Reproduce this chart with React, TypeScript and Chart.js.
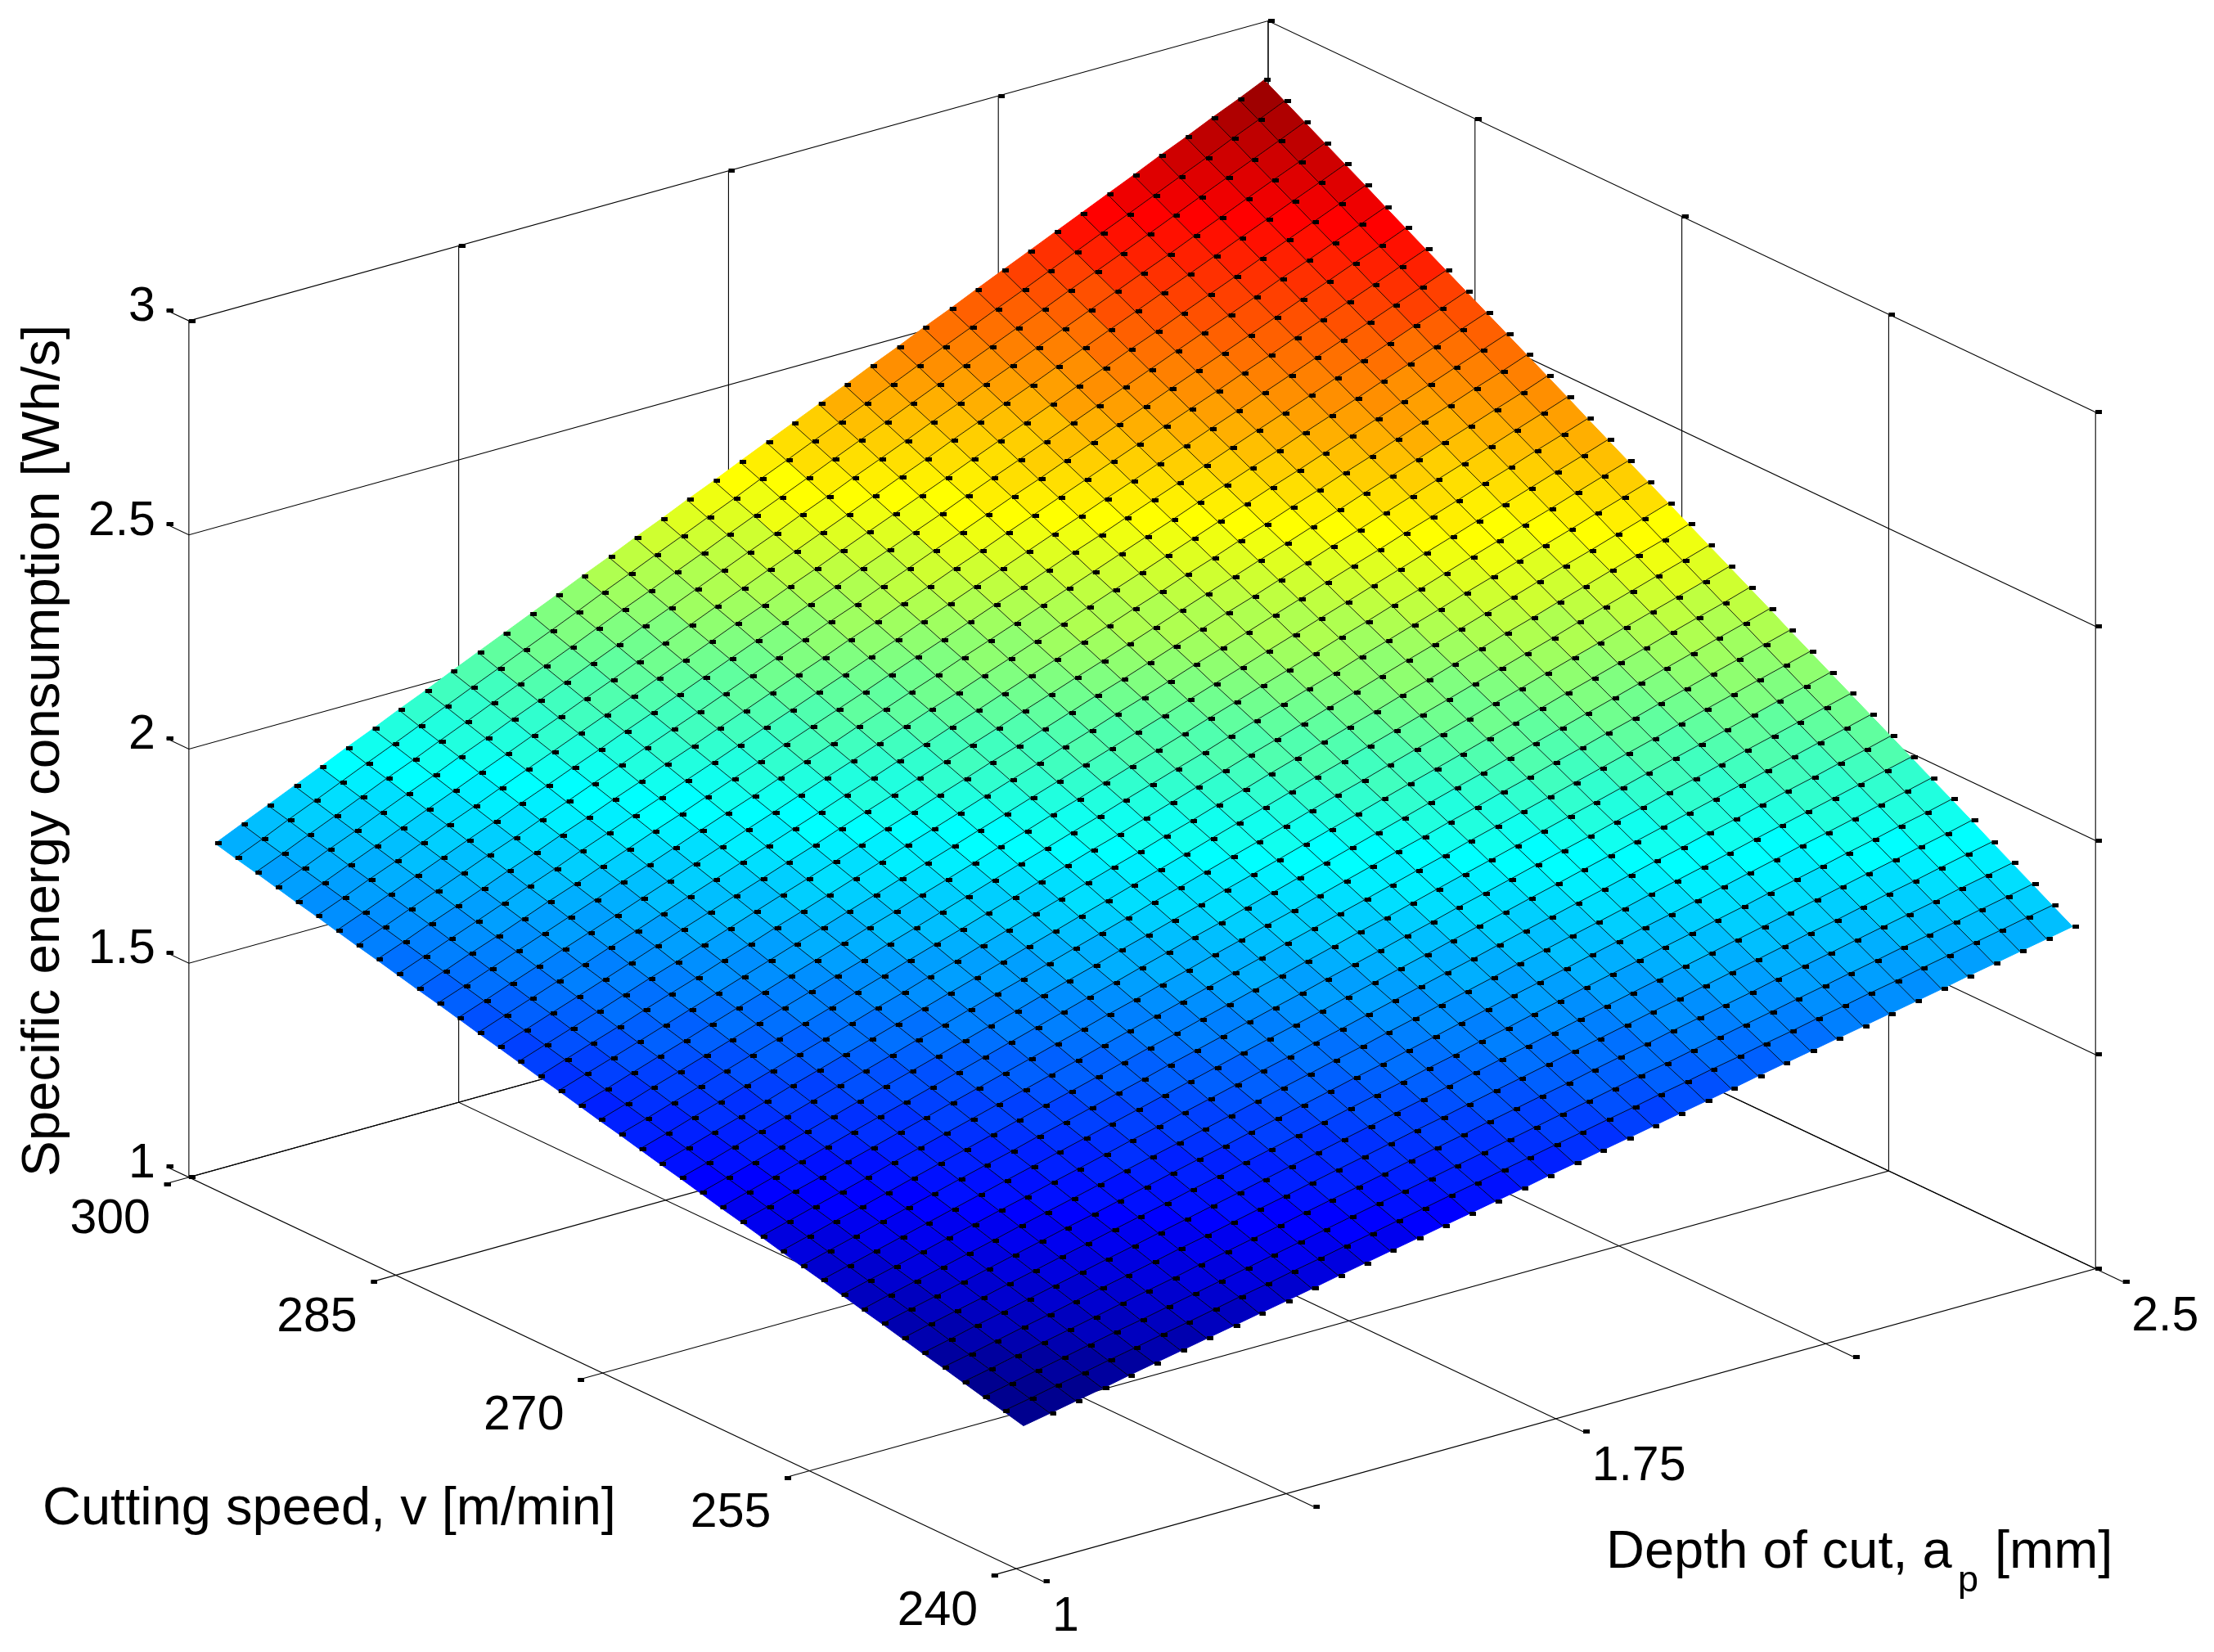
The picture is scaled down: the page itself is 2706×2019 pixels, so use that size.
import React, { useEffect, useRef } from "react";
import { Chart, registerables } from "chart.js";

Chart.register(...registerables);

// Grid of the surface
const depths = [1.010,1.047,1.083,1.120,1.156,1.192,1.229,1.265,1.302,1.338,1.375,1.411,1.448,1.484,1.520,1.557,1.593,1.630,1.666,1.703,1.739,1.776,1.812,1.849,1.885,1.921,1.958,1.994,2.031,2.067,2.104,2.140,2.177,2.213,2.250,2.286,2.322,2.359,2.395,2.432,2.468];
const speeds = [240,241.47,242.93,244.40,245.86,247.33,248.79,250.26,251.72,253.19,254.66,256.12,257.59,259.05,260.52,261.98,263.45,264.91,266.38,267.84,269.31,270.78,272.24,273.71,275.17,276.64,278.10,279.57,281.03,282.50,283.97,285.43,286.90,288.36,289.83,291.29,292.76,294.22,295.69,297.15,298.62];

// energy[speed index][depth index], Wh/s
const energy = [
[1.329,1.341,1.353,1.365,1.378,1.390,1.402,1.414,1.426,1.438,1.450,1.462,1.475,1.487,1.499,1.511,1.523,1.535,1.547,1.559,1.572,1.584,1.596,1.608,1.620,1.632,1.644,1.656,1.669,1.681,1.693,1.705,1.717,1.729,1.741,1.753,1.766,1.778,1.790,1.802,1.814],
[1.341,1.353,1.366,1.378,1.391,1.403,1.416,1.428,1.441,1.454,1.466,1.479,1.491,1.504,1.516,1.529,1.541,1.554,1.566,1.579,1.591,1.604,1.616,1.629,1.641,1.654,1.666,1.679,1.691,1.704,1.716,1.729,1.741,1.754,1.766,1.779,1.791,1.804,1.816,1.829,1.841],
[1.352,1.365,1.378,1.391,1.404,1.417,1.429,1.442,1.455,1.468,1.481,1.494,1.507,1.520,1.533,1.546,1.558,1.571,1.584,1.597,1.610,1.623,1.636,1.649,1.662,1.675,1.687,1.700,1.713,1.726,1.739,1.752,1.765,1.778,1.791,1.804,1.816,1.829,1.842,1.855,1.868],
[1.364,1.377,1.391,1.404,1.417,1.430,1.444,1.457,1.470,1.484,1.497,1.510,1.523,1.537,1.550,1.563,1.576,1.590,1.603,1.616,1.630,1.643,1.656,1.669,1.683,1.696,1.709,1.723,1.736,1.749,1.762,1.776,1.789,1.802,1.816,1.829,1.842,1.855,1.869,1.882,1.895],
[1.376,1.389,1.403,1.417,1.430,1.444,1.458,1.471,1.485,1.499,1.512,1.526,1.540,1.553,1.567,1.581,1.594,1.608,1.622,1.635,1.649,1.663,1.676,1.690,1.704,1.717,1.731,1.745,1.758,1.772,1.786,1.799,1.813,1.827,1.840,1.854,1.868,1.881,1.895,1.909,1.922],
[1.387,1.401,1.416,1.430,1.444,1.458,1.472,1.486,1.500,1.514,1.528,1.542,1.556,1.570,1.584,1.598,1.612,1.626,1.640,1.654,1.668,1.683,1.697,1.711,1.725,1.739,1.753,1.767,1.781,1.795,1.809,1.823,1.837,1.851,1.865,1.879,1.893,1.907,1.921,1.935,1.950],
[1.399,1.414,1.428,1.442,1.457,1.471,1.486,1.500,1.515,1.529,1.543,1.558,1.572,1.587,1.601,1.616,1.630,1.645,1.659,1.673,1.688,1.702,1.717,1.731,1.746,1.760,1.775,1.789,1.803,1.818,1.832,1.847,1.861,1.876,1.890,1.904,1.919,1.933,1.948,1.962,1.977],
[1.411,1.426,1.440,1.455,1.470,1.485,1.500,1.515,1.529,1.544,1.559,1.574,1.589,1.603,1.618,1.633,1.648,1.663,1.678,1.692,1.707,1.722,1.737,1.752,1.767,1.781,1.796,1.811,1.826,1.841,1.855,1.870,1.885,1.900,1.915,1.930,1.944,1.959,1.974,1.989,2.004],
[1.422,1.438,1.453,1.468,1.483,1.498,1.514,1.529,1.544,1.559,1.575,1.590,1.605,1.620,1.635,1.651,1.666,1.681,1.696,1.711,1.727,1.742,1.757,1.772,1.787,1.803,1.818,1.833,1.848,1.863,1.879,1.894,1.909,1.924,1.940,1.955,1.970,1.985,2.000,2.016,2.031],
[1.434,1.450,1.465,1.481,1.497,1.512,1.528,1.543,1.559,1.574,1.590,1.606,1.621,1.637,1.652,1.668,1.684,1.699,1.715,1.730,1.746,1.762,1.777,1.793,1.808,1.824,1.840,1.855,1.871,1.886,1.902,1.918,1.933,1.949,1.964,1.980,1.996,2.011,2.027,2.042,2.058],
[1.446,1.462,1.478,1.494,1.510,1.526,1.542,1.558,1.574,1.590,1.606,1.622,1.638,1.654,1.670,1.686,1.702,1.718,1.733,1.749,1.765,1.781,1.797,1.813,1.829,1.845,1.861,1.877,1.893,1.909,1.925,1.941,1.957,1.973,1.989,2.005,2.021,2.037,2.053,2.069,2.085],
[1.457,1.474,1.490,1.507,1.523,1.539,1.556,1.572,1.588,1.605,1.621,1.637,1.654,1.670,1.687,1.703,1.719,1.736,1.752,1.768,1.785,1.801,1.817,1.834,1.850,1.867,1.883,1.899,1.916,1.932,1.948,1.965,1.981,1.998,2.014,2.030,2.047,2.063,2.079,2.096,2.112],
[1.469,1.486,1.503,1.519,1.536,1.553,1.570,1.586,1.603,1.620,1.637,1.653,1.670,1.687,1.704,1.720,1.737,1.754,1.771,1.787,1.804,1.821,1.838,1.854,1.871,1.888,1.905,1.921,1.938,1.955,1.972,1.988,2.005,2.022,2.039,2.055,2.072,2.089,2.106,2.122,2.139],
[1.481,1.498,1.515,1.532,1.549,1.567,1.584,1.601,1.618,1.635,1.652,1.669,1.686,1.704,1.721,1.738,1.755,1.772,1.789,1.806,1.824,1.841,1.858,1.875,1.892,1.909,1.926,1.944,1.961,1.978,1.995,2.012,2.029,2.046,2.063,2.081,2.098,2.115,2.132,2.149,2.166],
[1.493,1.510,1.528,1.545,1.563,1.580,1.598,1.615,1.633,1.650,1.668,1.685,1.703,1.720,1.738,1.755,1.773,1.790,1.808,1.825,1.843,1.860,1.878,1.896,1.913,1.931,1.948,1.966,1.983,2.001,2.018,2.036,2.053,2.071,2.088,2.106,2.123,2.141,2.158,2.176,2.193],
[1.504,1.522,1.540,1.558,1.576,1.594,1.612,1.629,1.647,1.665,1.683,1.701,1.719,1.737,1.755,1.773,1.791,1.809,1.827,1.844,1.862,1.880,1.898,1.916,1.934,1.952,1.970,1.988,2.006,2.023,2.041,2.059,2.077,2.095,2.113,2.131,2.149,2.167,2.185,2.203,2.221],
[1.516,1.534,1.552,1.571,1.589,1.607,1.626,1.644,1.662,1.680,1.699,1.717,1.735,1.754,1.772,1.790,1.809,1.827,1.845,1.863,1.882,1.900,1.918,1.937,1.955,1.973,1.992,2.010,2.028,2.046,2.065,2.083,2.101,2.120,2.138,2.156,2.174,2.193,2.211,2.229,2.248],
[1.528,1.546,1.565,1.584,1.602,1.621,1.640,1.658,1.677,1.696,1.714,1.733,1.752,1.770,1.789,1.808,1.826,1.845,1.864,1.882,1.901,1.920,1.938,1.957,1.976,1.995,2.013,2.032,2.051,2.069,2.088,2.107,2.125,2.144,2.163,2.181,2.200,2.219,2.237,2.256,2.275],
[1.539,1.558,1.577,1.596,1.615,1.635,1.654,1.673,1.692,1.711,1.730,1.749,1.768,1.787,1.806,1.825,1.844,1.863,1.882,1.901,1.920,1.940,1.959,1.978,1.997,2.016,2.035,2.054,2.073,2.092,2.111,2.130,2.149,2.168,2.187,2.207,2.226,2.245,2.264,2.283,2.302],
[1.551,1.570,1.590,1.609,1.629,1.648,1.668,1.687,1.706,1.726,1.745,1.765,1.784,1.804,1.823,1.843,1.862,1.882,1.901,1.920,1.940,1.959,1.979,1.998,2.018,2.037,2.057,2.076,2.095,2.115,2.134,2.154,2.173,2.193,2.212,2.232,2.251,2.271,2.290,2.309,2.329],
[1.563,1.582,1.602,1.622,1.642,1.662,1.682,1.701,1.721,1.741,1.761,1.781,1.801,1.820,1.840,1.860,1.880,1.900,1.920,1.939,1.959,1.979,1.999,2.019,2.039,2.058,2.078,2.098,2.118,2.138,2.158,2.177,2.197,2.217,2.237,2.257,2.277,2.296,2.316,2.336,2.356],
[1.574,1.594,1.615,1.635,1.655,1.675,1.696,1.716,1.736,1.756,1.776,1.797,1.817,1.837,1.857,1.878,1.898,1.918,1.938,1.958,1.979,1.999,2.019,2.039,2.060,2.080,2.100,2.120,2.140,2.161,2.181,2.201,2.221,2.242,2.262,2.282,2.302,2.322,2.343,2.363,2.383],
[1.586,1.606,1.627,1.648,1.668,1.689,1.710,1.730,1.751,1.771,1.792,1.813,1.833,1.854,1.874,1.895,1.916,1.936,1.957,1.977,1.998,2.019,2.039,2.060,2.081,2.101,2.122,2.142,2.163,2.184,2.204,2.225,2.245,2.266,2.287,2.307,2.328,2.348,2.369,2.390,2.410],
[1.598,1.619,1.639,1.660,1.681,1.702,1.723,1.744,1.765,1.786,1.807,1.828,1.849,1.870,1.891,1.912,1.933,1.954,1.975,1.996,2.017,2.038,2.059,2.080,2.101,2.122,2.143,2.164,2.185,2.206,2.227,2.248,2.269,2.290,2.311,2.332,2.353,2.374,2.395,2.416,2.437],
[1.609,1.631,1.652,1.673,1.695,1.716,1.737,1.759,1.780,1.802,1.823,1.844,1.866,1.887,1.909,1.930,1.951,1.973,1.994,2.015,2.037,2.058,2.080,2.101,2.122,2.144,2.165,2.186,2.208,2.229,2.251,2.272,2.293,2.315,2.336,2.357,2.379,2.400,2.422,2.443,2.464],
[1.621,1.643,1.664,1.686,1.708,1.730,1.751,1.773,1.795,1.817,1.839,1.860,1.882,1.904,1.926,1.947,1.969,1.991,2.013,2.034,2.056,2.078,2.100,2.121,2.143,2.165,2.187,2.209,2.230,2.252,2.274,2.296,2.317,2.339,2.361,2.383,2.404,2.426,2.448,2.470,2.492],
[1.633,1.655,1.677,1.699,1.721,1.743,1.766,1.788,1.810,1.832,1.854,1.876,1.898,1.921,1.943,1.965,1.987,2.009,2.031,2.053,2.076,2.098,2.120,2.142,2.164,2.186,2.209,2.231,2.253,2.275,2.297,2.319,2.341,2.364,2.386,2.408,2.430,2.452,2.474,2.496,2.519],
[1.644,1.667,1.689,1.712,1.734,1.757,1.779,1.802,1.825,1.847,1.870,1.892,1.915,1.937,1.960,1.982,2.005,2.027,2.050,2.072,2.095,2.118,2.140,2.163,2.185,2.208,2.230,2.253,2.275,2.298,2.320,2.343,2.365,2.388,2.410,2.433,2.456,2.478,2.501,2.523,2.546],
[1.656,1.679,1.702,1.725,1.748,1.770,1.793,1.816,1.839,1.862,1.885,1.908,1.931,1.954,1.977,2.000,2.023,2.046,2.069,2.091,2.114,2.137,2.160,2.183,2.206,2.229,2.252,2.275,2.298,2.321,2.344,2.367,2.389,2.412,2.435,2.458,2.481,2.504,2.527,2.550,2.573],
[1.668,1.691,1.714,1.738,1.761,1.784,1.807,1.831,1.854,1.877,1.901,1.924,1.947,1.971,1.994,2.017,2.041,2.064,2.087,2.110,2.134,2.157,2.180,2.204,2.227,2.250,2.274,2.297,2.320,2.344,2.367,2.390,2.413,2.437,2.460,2.483,2.507,2.530,2.553,2.577,2.600],
[1.679,1.703,1.727,1.750,1.774,1.798,1.821,1.845,1.869,1.893,1.916,1.940,1.964,1.987,2.011,2.035,2.058,2.082,2.106,2.130,2.153,2.177,2.201,2.224,2.248,2.272,2.295,2.319,2.343,2.366,2.390,2.414,2.438,2.461,2.485,2.509,2.532,2.556,2.580,2.603,2.627],
[1.691,1.715,1.739,1.763,1.787,1.811,1.835,1.860,1.884,1.908,1.932,1.956,1.980,2.004,2.028,2.052,2.076,2.100,2.124,2.148,2.173,2.197,2.221,2.245,2.269,2.293,2.317,2.341,2.365,2.389,2.413,2.437,2.461,2.486,2.510,2.534,2.558,2.582,2.606,2.630,2.654],
[1.703,1.727,1.752,1.776,1.800,1.825,1.849,1.874,1.898,1.923,1.947,1.972,1.996,2.021,2.045,2.070,2.094,2.118,2.143,2.167,2.192,2.216,2.241,2.265,2.290,2.314,2.339,2.363,2.388,2.412,2.437,2.461,2.485,2.510,2.534,2.559,2.583,2.608,2.632,2.657,2.681],
[1.714,1.739,1.764,1.789,1.814,1.839,1.863,1.888,1.913,1.938,1.963,1.988,2.013,2.037,2.062,2.087,2.112,2.137,2.162,2.186,2.211,2.236,2.261,2.286,2.311,2.336,2.360,2.385,2.410,2.435,2.460,2.485,2.510,2.534,2.559,2.584,2.609,2.634,2.659,2.683,2.708],
[1.726,1.751,1.776,1.802,1.827,1.852,1.877,1.903,1.928,1.953,1.978,2.004,2.029,2.054,2.079,2.105,2.130,2.155,2.180,2.205,2.231,2.256,2.281,2.306,2.332,2.357,2.382,2.407,2.433,2.458,2.483,2.508,2.534,2.559,2.584,2.609,2.635,2.660,2.685,2.710,2.735],
[1.738,1.763,1.789,1.814,1.840,1.866,1.891,1.917,1.943,1.968,1.994,2.019,2.045,2.071,2.096,2.122,2.148,2.173,2.199,2.224,2.250,2.276,2.301,2.327,2.352,2.378,2.404,2.429,2.455,2.481,2.506,2.532,2.557,2.583,2.609,2.634,2.660,2.686,2.711,2.737,2.763],
[1.749,1.775,1.801,1.827,1.853,1.879,1.905,1.931,1.957,1.983,2.009,2.035,2.061,2.087,2.113,2.139,2.165,2.191,2.217,2.243,2.269,2.295,2.321,2.348,2.373,2.400,2.426,2.452,2.478,2.504,2.530,2.556,2.582,2.608,2.634,2.660,2.686,2.712,2.738,2.764,2.790],
[1.761,1.787,1.814,1.840,1.867,1.893,1.919,1.946,1.972,1.999,2.025,2.051,2.078,2.104,2.131,2.157,2.183,2.210,2.236,2.262,2.289,2.315,2.342,2.368,2.394,2.421,2.447,2.474,2.500,2.526,2.553,2.579,2.606,2.632,2.658,2.685,2.711,2.738,2.764,2.790,2.817],
[1.773,1.799,1.826,1.853,1.880,1.907,1.933,1.960,1.987,2.014,2.041,2.067,2.094,2.121,2.148,2.174,2.201,2.228,2.255,2.282,2.308,2.335,2.362,2.389,2.415,2.442,2.469,2.496,2.523,2.549,2.576,2.603,2.630,2.656,2.683,2.710,2.737,2.764,2.790,2.817,2.844],
[1.784,1.811,1.839,1.866,1.893,1.920,1.947,1.974,2.002,2.029,2.056,2.083,2.110,2.137,2.165,2.192,2.219,2.246,2.273,2.300,2.328,2.355,2.382,2.409,2.436,2.463,2.491,2.518,2.545,2.572,2.599,2.626,2.654,2.681,2.708,2.735,2.762,2.789,2.817,2.844,2.871],
[1.796,1.824,1.851,1.879,1.906,1.934,1.961,1.989,2.016,2.044,2.072,2.099,2.127,2.154,2.182,2.209,2.237,2.264,2.292,2.319,2.347,2.375,2.402,2.430,2.457,2.485,2.512,2.540,2.567,2.595,2.623,2.650,2.678,2.705,2.733,2.760,2.788,2.815,2.843,2.870,2.898],
];

// Axes
const depthTicks = [1, 1.375, 1.75, 2.125, 2.5];
const depthLabels = ["1", "", "1.75", "", "2.5"];
const speedTicks = [300, 285, 270, 255, 240];
const speedLabels = ["300", "285", "270", "255", "240"];
const energyTicks = [1, 1.5, 2, 2.5, 3];
const energyLabels = ["1", "1.5", "2", "2.5", "3"];
const depthRange = [1, 2.5];
const speedRange = [240, 300];
const energyRange = [1, 3];

const W = 2706;
const H = 2019;

type P = { x: number; y: number };

// Oblique view of the three axes on the page
const project = (a: number, v: number, z: number): P => {
  const A = (a - depthRange[0]) / (depthRange[1] - depthRange[0]);
  const V = (v - speedRange[0]) / (speedRange[1] - speedRange[0]);
  return {
    x: 1241.7 + A * 1324 - V * 1015,
    y: 1921.7 - A * 368.4 - V * 480.7 - (z - energyRange[0]) * 526,
  };
};

// MATLAB jet(64)
const jet = (f: number) => {
  const k = Math.max(0, Math.min(63, Math.floor(f * 64)));
  const x = (k + 1) / 64;
  const c = (n: number) => Math.round(255 * Math.max(0, Math.min(1, n)));
  const r = c(Math.min(4 * x - 1.5, -4 * x + 4.5));
  const g = c(Math.min(4 * x - 0.5, -4 * x + 3.5));
  const b = c(Math.min(4 * x + 0.5, -4 * x + 2.5));
  return `rgb(${r},${g},${b})`;
};

const dashMarker = () => {
  const c = document.createElement("canvas");
  c.width = 16;
  c.height = 5;
  const g = c.getContext("2d")!;
  g.fillStyle = "#000";
  g.fillRect(8, 0, 8, 5);
  return c;
};

const line = (data: P[], color: string, width: number) => ({
  data,
  showLine: true,
  borderColor: color,
  borderWidth: width,
  pointRadius: 0,
  fill: false,
  tension: 0,
});

const buildDatasets = () => {
  const marker = dashMarker();
  const [aMin, aMax] = depthRange;
  const [vMin, vMax] = speedRange;
  const [zMin, zMax] = energyRange;
  const grid: any[] = [];
  const ends: P[] = [];

  // Walls: constant-energy lines, back-wall verticals
  energyTicks.forEach((z) => {
    grid.push(line([project(aMin, vMax + 1.62, z), project(aMin, vMax, z), project(aMax, vMax, z), project(aMax, vMin, z)], "#000", 1.1));
    ends.push(project(aMin, vMax + 1.62, z), project(aMax, vMin, z));
  });
  depthTicks.forEach((a) => {
    grid.push(line([project(a, vMin - 1.98, zMin), project(a, vMax, zMin), project(a, vMax, zMax)], "#000", 1.1));
    ends.push(project(a, vMin - 1.98, zMin), project(a, vMax, zMax));
  });
  speedTicks.forEach((v) => {
    grid.push(line([project(aMin - 0.0345, v, zMin), project(aMax, v, zMin), project(aMax, v, zMax)], "#000", 1.1));
    ends.push(project(aMin - 0.0345, v, zMin), project(aMax, v, zMax));
  });
  ends.push(project(aMin, vMax, zMin), project(aMin, vMax, zMax), project(aMax, vMin, zMin));

  const cells: any[] = [];
  const mesh: any[] = [];
  const vertices: P[] = [];
  const flat = energy.flat();
  const lo = Math.min(...flat);
  const hi = Math.max(...flat);
  const at = (i: number, j: number) => project(depths[i], speeds[j], energy[j][i]);

  for (let j = 0; j < speeds.length - 1; j++) {
    for (let i = 0; i < depths.length - 1; i++) {
      const color = jet((energy[j][i] - lo) / (hi - lo));
      cells.push({
        data: [at(i, j), at(i + 1, j), at(i + 1, j + 1), at(i, j + 1), at(i, j)],
        showLine: true,
        fill: "shape",
        backgroundColor: color,
        borderColor: color,
        borderWidth: 1,
        pointRadius: 0,
        tension: 0,
      });
    }
  }
  for (let j = 1; j < speeds.length - 1; j++) {
    mesh.push(line(depths.map((_, i) => at(i, j)), "#000", 0.85));
  }
  for (let i = 1; i < depths.length - 1; i++) {
    mesh.push(line(speeds.map((_, j) => at(i, j)), "#000", 0.85));
  }
  for (let j = 0; j < speeds.length; j++) {
    for (let i = 0; i < depths.length; i++) {
      if (i + j > 0) vertices.push(at(i, j));
    }
  }
  const dots = (data: P[]) => ({
    data,
    showLine: false,
    pointStyle: marker,
    pointRadius: 4,
  });
  // the first dataset is painted last
  return [dots(vertices), ...mesh, ...cells, dots(ends), ...grid];
};

const SANS = '"Liberation Sans", Arial, sans-serif';

const labelsPlugin = {
  id: "axisLabels",
  afterDraw(chart: any) {
    const { ctx } = chart;
    const px = (p: P) => ({ x: chart.scales.x.getPixelForValue(p.x), y: chart.scales.y.getPixelForValue(p.y) });
    const [aMin] = depthRange;
    const [vMin, vMax] = speedRange;
    const [zMin] = energyRange;
    ctx.save();
    ctx.fillStyle = "#000";
    ctx.textBaseline = "alphabetic";
    ctx.font = `59px ${SANS}`;
    ctx.textAlign = "right";
    energyTicks.forEach((z, n) => {
      const p = px(project(aMin, vMax, z));
      ctx.fillText(energyLabels[n], p.x - 41, p.y);
    });
    speedTicks.forEach((v, n) => {
      const p = px(project(aMin, v, zMin));
      ctx.fillText(speedLabels[n], p.x - 47, p.y + 68.5);
    });
    ctx.textAlign = "left";
    depthTicks.forEach((a, n) => {
      const p = px(project(a, vMin, zMin));
      ctx.fillText(depthLabels[n], p.x + 44, p.y + 75.5);
    });
    ctx.font = `65px ${SANS}`;
    ctx.fillText("Cutting speed, v [m/min]", 52, 1863);
    ctx.fillText("Depth of cut, a", 1963, 1916);
    ctx.fillText("[mm]", 2438, 1916);
    ctx.font = `45px ${SANS}`;
    ctx.fillText("p", 2393, 1945);
    ctx.font = `65.5px ${SANS}`;
    ctx.translate(72, 1438);
    ctx.rotate(-Math.PI / 2);
    ctx.fillText("Specific energy consumption [Wh/s]", 0, 0);
    ctx.restore();
  },
};

export default function App() {
  const ref = useRef<HTMLCanvasElement>(null);
  useEffect(() => {
    document.body.style.margin = "0";
    const chart = new Chart(ref.current!, {
      type: "scatter",
      data: { datasets: buildDatasets() as any },
      options: {
        animation: false,
        responsive: false,
        devicePixelRatio: 1,
        events: [],
        parsing: false,
        normalized: true,
        layout: { padding: 0 },
        scales: {
          x: { type: "linear", display: false, min: 0, max: W },
          y: { type: "linear", display: false, min: 0, max: H, reverse: true },
        },
        plugins: { legend: { display: false }, tooltip: { enabled: false } },
      } as any,
      plugins: [labelsPlugin],
    });
    return () => chart.destroy();
  }, []);
  return <canvas ref={ref} width={W} height={H} style={{ display: "block" }} />;
}
